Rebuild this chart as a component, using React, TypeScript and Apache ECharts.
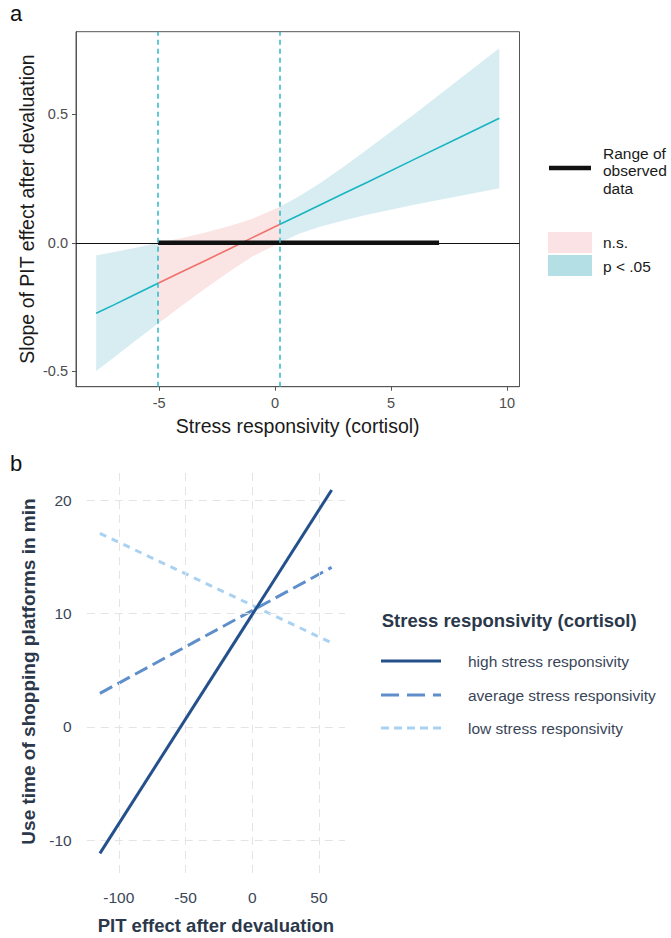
import React, { useEffect, useRef } from "react";
import * as echarts from "echarts";

// ---------- Panel a data (Johnson-Neyman plot) ----------
const jnX = [-7.72, -7, -6, -5.05, -4, -3, -2, -1, 0.21, 1, 2, 3, 4, 6, 8, 9.67];
const slopeEst = [-0.275, -0.244, -0.2, -0.158, -0.112, -0.069, -0.025, 0.019, 0.072, 0.106, 0.15, 0.194, 0.237, 0.325, 0.412, 0.485];
const ciLow = [-0.5, -0.45, -0.38, -0.315, -0.244, -0.177, -0.114, -0.055, 0.0, 0.034, 0.064, 0.088, 0.11, 0.148, 0.183, 0.212];
const ciHigh = [-0.05, -0.037, -0.019, 0.0, 0.019, 0.04, 0.064, 0.093, 0.14, 0.179, 0.236, 0.299, 0.365, 0.501, 0.641, 0.758];
const jnBounds = [-5.05, 0.21];
const observedRange = [-5.05, 7.07];
const aXTicks = [-5, 0, 5, 10];
const aYTicks = [-0.5, 0, 0.5];

// ---------- Panel b data (simple slopes) ----------
const pitX = [-114.2, 59.5];
const highY = [-11.17, 20.9];
const avgY = [2.95, 14.07];
const lowY = [17.07, 7.41];
const bXTicks = [-100, -50, 0, 50];
const bYTicks = [-10, 0, 10, 20];
const bSeriesNames = ["high stress responsivity", "average stress responsivity", "low stress responsivity"];

const FONT = "'Liberation Sans', Arial, sans-serif";
const TEAL = "#19b4c1";
const RED = "#f0716b";
const BAND_SIG = "#d7edf2";
const BAND_NS = "#fbe4e4";
const HIGH_C = "#24518c";
const AVG_C = "#5f8fcb";
const LOW_C = "#a9d2f2";
const B_TEXT = "#3a4658";
const B_TITLE = "#2b384b";

export default function App() {
  const ref = useRef<HTMLDivElement>(null);

  useEffect(() => {
    document.body.style.margin = "0";
    if (!ref.current) return;
    const chart = echarts.init(ref.current, undefined, { renderer: "svg" });

    const i0 = jnX.indexOf(jnBounds[0]);
    const i1 = jnX.indexOf(jnBounds[1]);
    const regions = [
      { from: 0, to: i0, color: BAND_SIG },
      { from: i0, to: i1, color: BAND_NS },
      { from: i1, to: jnX.length - 1, color: BAND_SIG },
    ];
    const seg = (a: number, b: number) => jnX.slice(a, b + 1).map((x, k) => [x, slopeEst[a + k]]);

    const gridA = { left: 76, top: 31.7, width: 443.5, height: 355 };
    const gridB = { left: 86.7, top: 470, width: 258.3, height: 403 };

    const dashed = { color: "#2cb8c8", width: 1.5, type: [5, 4] as any };
    const gridLineStyle = { color: "#e4e4e4", width: 1, type: [8, 6] as any };

    const option: any = {
      animation: false,
      backgroundColor: "#ffffff",
      textStyle: { fontFamily: FONT },
      grid: [
        { ...gridA, show: true, borderColor: "#555", borderWidth: 1, containLabel: false },
        { ...gridB, show: false, containLabel: false },
      ],
      xAxis: [
        {
          type: "value", gridIndex: 0, min: -8.59, max: 10.54, position: "bottom",
          axisLine: { show: true, onZero: false, lineStyle: { color: "#555" } },
          axisTick: { show: true, length: 4, lineStyle: { color: "#555" }, customValues: aXTicks },
          axisLabel: { customValues: aXTicks, color: "#4d4d4d", fontSize: 14.5, margin: 9, fontFamily: FONT },
          splitLine: { show: false },
        },
        {
          type: "value", gridIndex: 1, min: -124.1, max: 69.5, position: "bottom",
          axisLine: { show: false, onZero: false },
          axisTick: { show: false },
          axisLabel: { customValues: bXTicks, color: B_TEXT, fontSize: 15.5, margin: 16, fontFamily: FONT },
          splitLine: { show: false },
        },
      ],
      yAxis: [
        {
          type: "value", gridIndex: 0, min: -0.561, max: 0.8226, position: "left",
          axisLine: { show: true, onZero: false, lineStyle: { color: "#555" } },
          axisTick: { show: true, length: 4, lineStyle: { color: "#555" }, customValues: aYTicks },
          axisLabel: {
            customValues: aYTicks, color: "#4d4d4d", fontSize: 14.5, margin: 8, fontFamily: FONT,
            formatter: (v: number) => v.toFixed(1),
          },
          splitLine: { show: false },
        },
        {
          type: "value", gridIndex: 1, min: -12.9, max: 22.66, position: "left",
          axisLine: { show: false, onZero: false },
          axisTick: { show: false },
          axisLabel: { customValues: bYTicks, color: B_TEXT, fontSize: 15.5, margin: 15, fontFamily: FONT },
          splitLine: { show: false },
        },
      ],
      series: [
        // confidence bands
        {
          type: "custom", xAxisIndex: 0, yAxisIndex: 0, silent: true, z: 1,
          data: regions.map((_, i) => [jnX[regions[i].from], 0]),
          renderItem: (params: any, api: any) => {
            const r = regions[params.dataIndex];
            const pts: number[][] = [];
            for (let i = r.from; i <= r.to; i++) pts.push(api.coord([jnX[i], ciHigh[i]]));
            for (let i = r.to; i >= r.from; i--) pts.push(api.coord([jnX[i], ciLow[i]]));
            return { type: "polygon", shape: { points: pts }, style: { fill: r.color } };
          },
        },
        {
          type: "line", xAxisIndex: 0, yAxisIndex: 0, z: 3, data: seg(0, i0), showSymbol: false, silent: true,
          lineStyle: { color: TEAL, width: 1.6 },
        },
        {
          type: "line", xAxisIndex: 0, yAxisIndex: 0, z: 3, data: seg(i0, i1), showSymbol: false, silent: true,
          lineStyle: { color: RED, width: 1.6 },
        },
        {
          type: "line", xAxisIndex: 0, yAxisIndex: 0, z: 3, data: seg(i1, jnX.length - 1), showSymbol: false, silent: true,
          lineStyle: { color: TEAL, width: 1.6 },
          markLine: {
            silent: true, symbol: ["none", "none"], label: { show: false },
            data: [
              { yAxis: 0, lineStyle: { color: "#111", width: 1.2, type: "solid" } },
              { xAxis: jnBounds[0], lineStyle: dashed },
              { xAxis: jnBounds[1], lineStyle: dashed },
            ],
          },
        },
        {
          type: "line", xAxisIndex: 0, yAxisIndex: 0, z: 4, showSymbol: false, silent: true,
          data: [[observedRange[0], 0], [observedRange[1], 0]],
          lineStyle: { color: "#111", width: 4.5, cap: "butt" },
        },
        // panel b grid lines
        {
          type: "line", xAxisIndex: 1, yAxisIndex: 1, z: 1, showSymbol: false, silent: true,
          data: pitX.map((x, i) => [x, avgY[i]]),
          lineStyle: { width: 0, opacity: 0 },
          markLine: {
            silent: true, symbol: ["none", "none"], label: { show: false },
            lineStyle: gridLineStyle,
            data: [
              ...bXTicks.map((v) => ({ xAxis: v })),
              ...bYTicks.map((v) => ({ yAxis: v })),
            ],
          },
        },
        {
          name: bSeriesNames[2], type: "line", xAxisIndex: 1, yAxisIndex: 1, z: 3, showSymbol: false, silent: true,
          data: pitX.map((x, i) => [x, lowY[i]]),
          lineStyle: { color: LOW_C, width: 3, type: [7, 6], cap: "butt" },
        },
        {
          name: bSeriesNames[1], type: "line", xAxisIndex: 1, yAxisIndex: 1, z: 4, showSymbol: false, silent: true,
          data: pitX.map((x, i) => [x, avgY[i]]),
          lineStyle: { color: AVG_C, width: 3, type: [14, 6], cap: "butt" },
        },
        {
          name: bSeriesNames[0], type: "line", xAxisIndex: 1, yAxisIndex: 1, z: 5, showSymbol: false, silent: true,
          data: pitX.map((x, i) => [x, highY[i]]),
          lineStyle: { color: HIGH_C, width: 3 },
        },
      ],
      graphic: [
        // panel labels
        { type: "text", left: 10, top: 2, style: { text: "a", font: `22px ${FONT}`, fill: "#111" } },
        { type: "text", left: 10, top: 452, style: { text: "b", font: `22px ${FONT}`, fill: "#111" } },
        // panel a axis titles
        {
          type: "text", x: 297.7, y: 426, silent: true,
          style: { text: "Stress responsivity (cortisol)", font: `19.5px ${FONT}`, fill: "#1a1a1a", align: "center", verticalAlign: "middle" },
        },
        {
          type: "text", x: 27, y: 209, rotation: Math.PI / 2, silent: true,
          style: { text: "Slope of PIT effect after devaluation", font: `19.5px ${FONT}`, fill: "#1a1a1a", align: "center", verticalAlign: "middle" },
        },
        // panel a legend
        { type: "line", shape: { x1: 549, y1: 168, x2: 591, y2: 168 }, style: { stroke: "#111", lineWidth: 4.5 } },
        { type: "text", x: 603, y: 153, style: { text: "Range of", font: `15.5px ${FONT}`, fill: "#1a1a1a", verticalAlign: "middle" } },
        { type: "text", x: 603, y: 170.5, style: { text: "observed", font: `15.5px ${FONT}`, fill: "#1a1a1a", verticalAlign: "middle" } },
        { type: "text", x: 603, y: 188, style: { text: "data", font: `15.5px ${FONT}`, fill: "#1a1a1a", verticalAlign: "middle" } },
        { type: "rect", shape: { x: 548, y: 232, width: 44, height: 21 }, style: { fill: "#fbe2e4" } },
        { type: "rect", shape: { x: 548, y: 255, width: 44, height: 21 }, style: { fill: "#b3dfe5" } },
        { type: "text", x: 603, y: 242.5, style: { text: "n.s.", font: `15.5px ${FONT}`, fill: "#1a1a1a", verticalAlign: "middle" } },
        { type: "text", x: 603, y: 266, style: { text: "p < .05", font: `15.5px ${FONT}`, fill: "#1a1a1a", verticalAlign: "middle" } },
        // panel b axis titles
        {
          type: "text", x: 215.9, y: 925, silent: true,
          style: { text: "PIT effect after devaluation", font: `bold 18.5px ${FONT}`, fill: B_TITLE, align: "center", verticalAlign: "middle" },
        },
        {
          type: "text", x: 28.3, y: 671.5, rotation: Math.PI / 2, silent: true,
          style: { text: "Use time of shopping platforms in min", font: `bold 19px ${FONT}`, fill: B_TITLE, align: "center", verticalAlign: "middle" },
        },
        // panel b legend
        { type: "text", x: 381.7, y: 620, style: { text: "Stress responsivity (cortisol)", font: `bold 18.5px ${FONT}`, fill: B_TITLE, verticalAlign: "middle" } },
        { type: "line", shape: { x1: 381, y1: 661, x2: 441, y2: 661 }, style: { stroke: HIGH_C, lineWidth: 3 } },
        { type: "line", shape: { x1: 381, y1: 695, x2: 441, y2: 695 }, style: { stroke: AVG_C, lineWidth: 3, lineDash: [18, 8] } },
        { type: "line", shape: { x1: 381, y1: 728, x2: 441, y2: 728 }, style: { stroke: LOW_C, lineWidth: 3, lineDash: [8, 5] } },
        { type: "text", x: 468, y: 661, style: { text: bSeriesNames[0], font: `15.5px ${FONT}`, fill: B_TEXT, verticalAlign: "middle" } },
        { type: "text", x: 468, y: 695, style: { text: bSeriesNames[1], font: `15.5px ${FONT}`, fill: B_TEXT, verticalAlign: "middle" } },
        { type: "text", x: 468, y: 728, style: { text: bSeriesNames[2], font: `15.5px ${FONT}`, fill: B_TEXT, verticalAlign: "middle" } },
      ],
    };

    chart.setOption(option);
    return () => chart.dispose();
  }, []);

  return <div ref={ref} style={{ width: 671, height: 938 }} />;
}
